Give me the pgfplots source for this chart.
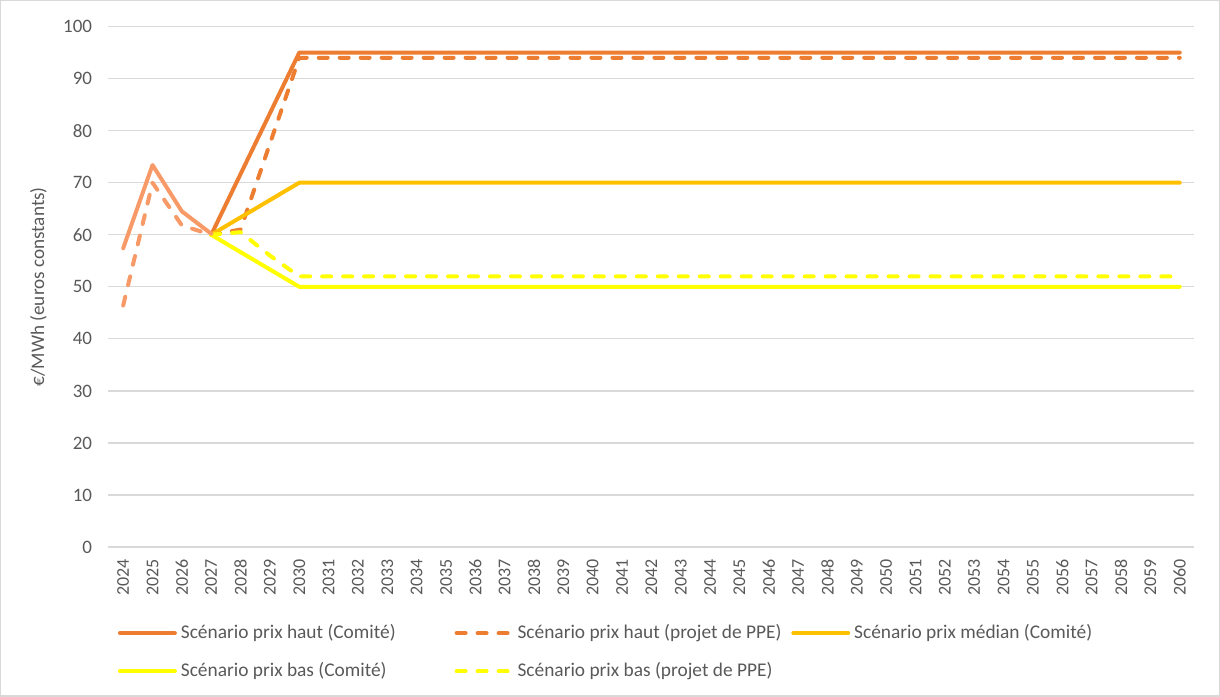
\documentclass[border=0pt]{standalone}
\usepackage{pgfplots}
\pgfplotsset{compat=1.18}
\usepackage{fontspec}
\setmainfont{Carlito}
\definecolor{haut}{HTML}{ED7D31}
\definecolor{saumon}{HTML}{F89A68}
\definecolor{median}{HTML}{FFC000}
\definecolor{bas}{HTML}{FFFF00}
\definecolor{grille}{HTML}{D9D9D9}
\definecolor{texte}{HTML}{595959}
\newcommand{\legtxt}[1]{\makebox[134pt][l]{#1}}
\begin{document}
\begin{tikzpicture}
\draw[grille, line width=0.6pt] (0,0) rectangle (610pt,348pt);
\begin{axis}[
  at={(54pt,74.5pt)}, anchor=south west,
  scale only axis, width=543.5pt, height=260.5pt,
  xmin=2023.5, xmax=2060.5, ymin=0, ymax=100,
  xtick={2024,...,2060}, ytick={0,10,...,100},
  axis line style={draw=none}, tick style={draw=none},
  ymajorgrids, grid style={grille, line width=0.6pt},
  /pgf/number format/assume math mode=true,
  /pgf/number format/1000 sep={},
  x tick label style={rotate=90, anchor=east, inner sep=0pt, font=\fontsize{9}{10}\selectfont, text=texte},
  xticklabel shift=6pt,
  y tick label style={inner sep=0pt, font=\fontsize{9.5}{11}\selectfont, text=texte},
  yticklabel shift=8pt,
  ylabel={€/MWh (euros constants)},
  ylabel style={at={(axis description cs:-0.0645,0.5)}, anchor=center, font=\fontsize{9.6}{11}\selectfont, text=texte},
  legend columns=3,
  legend cell align=left,
  legend style={at={(axis description cs:0.0065,-0.148)}, anchor=north west, draw=none, fill=none, inner sep=0pt,
    row sep=10.5pt, column sep=2pt, font=\fontsize{9.7}{11}\selectfont, text=texte,
    nodes={inner sep=0pt}},
  legend image code/.code={\path (0pt,0pt); \draw[#1, line cap=round] (1pt,0pt) -- (28.5pt,0pt);},
  every axis plot/.append style={line width=2pt, line join=round},
]
% Scenario prix haut (Comite)
\addplot[haut, line cap=round] coordinates {(2027,60) (2028,71.67) (2029,83.33) (2030,95) (2060,95)};
\addlegendentry{\legtxt{Scénario prix haut (Comité)}}
% Scenario prix haut (projet de PPE)
\addplot[haut, line cap=round, dash pattern=on 4.5pt off 6pt] coordinates {(2027,60) (2028,61) (2029,77.5) (2030,94) (2060,94)};
\addlegendentry{\legtxt{Scénario prix haut (projet de PPE)}}
% Scenario prix median (Comite)
\addplot[median, line cap=round] coordinates {(2027,60) (2030,70) (2060,70)};
\addlegendentry{\legtxt{Scénario prix médian (Comité)}}
% Scenario prix bas (Comite)
\addplot[bas, line cap=round] coordinates {(2027,60) (2030,50) (2060,50)};
\addlegendentry{\legtxt{Scénario prix bas (Comité)}}
% Scenario prix bas (projet de PPE)
\addplot[bas, line cap=round, dash pattern=on 4.5pt off 6pt] coordinates {(2027,60) (2028,60.5) (2029,56) (2030,52) (2060,52)};
\addlegendentry{\legtxt{Scénario prix bas (projet de PPE)}}
% historical segments (lighter colour)
\addplot[saumon, line cap=round, forget plot] coordinates {(2024,57.4) (2025,73.4) (2026,64.5) (2027,60.2)};
\addplot[saumon, line cap=round, dash pattern=on 4.5pt off 6pt, forget plot] coordinates {(2024,46.4) (2025,70) (2026,61.8) (2027,60)};
\end{axis}
\end{tikzpicture}
\end{document}
